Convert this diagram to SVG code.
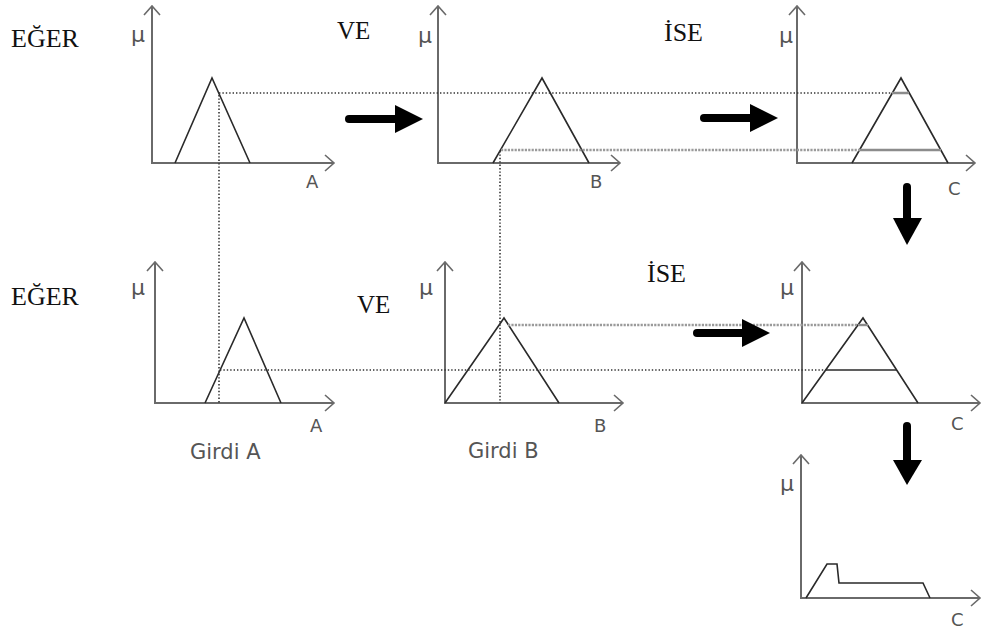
<svg xmlns="http://www.w3.org/2000/svg" width="982" height="632" viewBox="0 0 982 632">
  <defs>
    <style>
      .axis { fill: none; stroke: #6a6a6a; stroke-width: 2; }
      .tip { fill: none; stroke: #6a6a6a; stroke-width: 1.6; }
      .mf { fill: none; stroke: #2a2a2a; stroke-width: 1.6; stroke-linejoin: miter; }
      .dot { fill: none; stroke: #333; stroke-width: 1.6; stroke-dasharray: 1.4 2; }
      .gdash { fill: none; stroke: #9a9a9a; stroke-width: 2.6; stroke-dasharray: 2.2 1.2; }
      .clip { fill: none; stroke: #8c8c8c; stroke-width: 2.4; }
      .word { font-family: "Liberation Serif", "Times New Roman", serif; font-size: 25px; fill: #111; }
      .mu { font-family: "DejaVu Sans", Verdana, sans-serif; font-size: 22px; fill: #555; }
      .lbl { font-family: "DejaVu Sans", Verdana, sans-serif; font-size: 18px; fill: #555; }
      .cap { font-family: "DejaVu Sans", Verdana, sans-serif; font-size: 21px; fill: #555; }
      .shaft { fill: none; stroke: #000; stroke-width: 8; stroke-linecap: round; }
      .head { fill: #000; }
    </style>
  </defs>

  <!-- rule words -->
  <g id="words">
    <text class="word" x="11" y="47" style="font-size:26px">EĞER</text>
    <text class="word" x="337" y="39">VE</text>
    <text class="word" x="664" y="41" style="font-size:26px">İSE</text>
    <text class="word" x="11" y="305" style="font-size:26px">EĞER</text>
    <text class="word" x="357" y="313">VE</text>
    <text class="word" x="647" y="282" style="font-size:26px">İSE</text>
  </g>

  <!-- rule 1, input A -->
  <g id="plot-a1">
    <path class="axis" d="M152 6 V163 H334"/>
    <path class="tip" d="M144 15 L152 6 L160 15 M325 155 L334 163 L325 171"/>
    <text class="mu" x="131" y="42">μ</text>
    <text class="lbl" x="306" y="188">A</text>
    <path class="mf" d="M175 163 L212 78 L250 163"/>
  </g>

  <!-- rule 1, input B -->
  <g id="plot-b1">
    <path class="axis" d="M438 6 V163 H620"/>
    <path class="tip" d="M430 15 L438 6 L446 15 M611 155 L620 163 L611 171"/>
    <text class="mu" x="418" y="43">μ</text>
    <text class="lbl" x="590" y="188">B</text>
    <path class="mf" d="M493 163 L542 78 L589 163"/>
  </g>

  <!-- rule 1, output C -->
  <g id="plot-c1">
    <path class="axis" d="M797 6 V163 H975"/>
    <path class="tip" d="M789 15 L797 6 L805 15 M966 155 L975 163 L966 171"/>
    <text class="mu" x="779" y="43">μ</text>
    <text class="lbl" x="948" y="195">C</text>
    <path class="mf" d="M852 163 L901 78 L948 163"/>
    <path class="clip" d="M892 93 H909 M860 150 H941"/>
  </g>

  <!-- rule 2, input A -->
  <g id="plot-a2">
    <path class="axis" d="M155 262 V403 H334"/>
    <path class="tip" d="M147 271 L155 262 L163 271 M325 395 L334 403 L325 411"/>
    <text class="mu" x="131" y="295">μ</text>
    <text class="lbl" x="310" y="432">A</text>
    <path class="mf" d="M205 403 L244 318 L281 403"/>
    <text class="cap" x="190" y="459">Girdi A</text>
  </g>

  <!-- rule 2, input B -->
  <g id="plot-b2">
    <path class="axis" d="M445 262 V403 H623"/>
    <path class="tip" d="M437 271 L445 262 L453 271 M614 395 L623 403 L614 411"/>
    <text class="mu" x="419" y="295">μ</text>
    <text class="lbl" x="594" y="432">B</text>
    <path class="mf" d="M445 403 L504 318 L559 403"/>
    <text class="cap" x="468" y="458">Girdi B</text>
  </g>

  <!-- rule 2, output C -->
  <g id="plot-c2">
    <path class="axis" d="M802 262 V403 H980"/>
    <path class="tip" d="M794 271 L802 262 L810 271 M971 395 L980 403 L971 411"/>
    <text class="mu" x="780" y="295">μ</text>
    <text class="lbl" x="951" y="430">C</text>
    <path class="mf" d="M802 403 L863 318 L918 403"/>
    <path class="mf" d="M826 370 H897"/>
    <path class="clip" d="M858 325 H868"/>
  </g>

  <!-- aggregated output -->
  <g id="plot-out">
    <path class="axis" d="M801 455 V598 H980"/>
    <path class="tip" d="M793 464 L801 455 L809 464 M971 590 L980 598 L971 606"/>
    <text class="mu" x="780" y="491">μ</text>
    <text class="lbl" x="951" y="626">C</text>
    <path class="mf" d="M806 598 L827 564 L837 564 L839 583 L923 583 L930 598"/>
  </g>

  <!-- projection lines and flow arrows -->
  <g id="connectors">
    <path class="dot" d="M219 93 H892"/>
    <path class="dot" d="M219 95 V403"/>
    <path class="dot" d="M220 370 H826"/>
    <path class="dot" d="M500 151 V403"/>
    <path class="gdash" d="M501 150 H860"/>
    <path class="gdash" d="M508 325 H858"/>

    <path class="shaft" d="M349 119 H400"/>
    <path class="head" d="M395 105 L423 119 L395 133 Z"/>
    <path class="shaft" d="M704 118 H755"/>
    <path class="head" d="M750 104 L778 118 L750 132 Z"/>
    <path class="shaft" d="M697 333 H747"/>
    <path class="head" d="M742 319 L770 333 L742 347 Z"/>
    <path class="shaft" d="M907 187 V222"/>
    <path class="head" d="M893 218 L907 245 L922 218 Z"/>
    <path class="shaft" d="M907 426 V464"/>
    <path class="head" d="M893 460 L907 485 L922 460 Z"/>
  </g>
</svg>
